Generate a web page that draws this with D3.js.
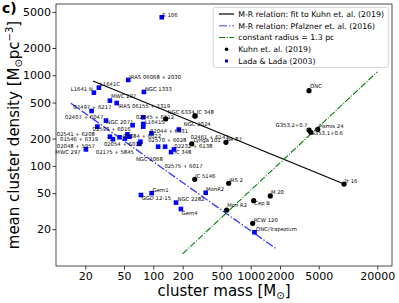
<!DOCTYPE html>
<html>
<head>
<meta charset="utf-8">
<script src="https://cdn.jsdelivr.net/npm/d3@7"></script>
<style>
  body { margin: 0; background: #fff; }
  svg { display: block; font-family: "DejaVu Sans", sans-serif; }
</style>
</head>
<body>
<div id="plot"></div>
<script>
// Kuhn et al. (2019) clusters: mass [Msun], mean density [Msun pc^-3]
const kuhnNames = ["ONC", "G353.2+0.7", "Pismis 24", "G353.1+0.6", "Tr 16", "IRS 2", "M 20", "Cep B",
  "Mon R2", "RCW 120", "IC 5146", "IC 348", "NGC 6334", "NGC 2024", "Lynga 101", "Be 87"];
const kuhnMass = [3975, 3975, 4890, 4140, 9100, 594, 1590, 1074, 566, 1048, 266, 268, 268, 134, 248, 557];
const kuhnDensity = [676, 249, 253, 235, 63, 64.3, 46.6, 41.3, 32.6, 23.2, 71, 356, 356, 330, 175, 182];

// Lada & Lada (2003) embedded clusters
const ladaNames = ["S 106", "IRAS 06068 + 2030", "L1641C", "L1641 N", "NGC 1333", "MWC 297", "IRAS 06155 + 2319",
  "02497 + 6217", "02407 + 6047", "02593 + 6016", "NGC 2071", "02045 + 6112", "L1641S", "02175 + 5845",
  "02461 + 6147", "02541 + 6208", "02054 + 6018", "01546 + 6319", "02384 + 6022", "MWC 297", "",
  "02570 + 6028", "NGC 2068", "02044 + 6031", "", "02575 + 6017", "02232 + 6138", "IC 348", "02048 + 5957",
  "Gem1", "GGD 12-15", "NGC 2282", "Gem4", "MonR2", "ONC/Trapezium"];
const ladaMass = [122, 55.2, 27.6, 24.5, 80, 35.8, 42, 23.2, 32.6, 26.6, 61.2, 78.7, 78.7, 78.7,
  183, 35.8, 38.4, 45.0, 51.1, 54.2, 56.8, 73.7, 71.6, 95.6, 112, 132, 163, 152, 20.3,
  96, 74.6, 171, 192, 345, 1094];
const ladaDensity = [4370, 888, 730, 643, 655, 525, 494, 404, 316, 271, 281, 344, 290, 271,
  252, 210, 197, 207, 200, 223, 210, 185, 175, 229, 163, 163, 152, 142, 152,
  50, 47.7, 39.3, 33.4, 50.5, 18.5];

// relation lines (end points)
const kuhnFitMass = [24, 9100];
const kuhnFitDensity = [865, 63];
const pfalznerMass = [14.2, 1820];
const pfalznerDensity = [491, 12.2];
const constRadiusMass = [200, 20000];
const constRadiusDensity = [10.7, 1090];

const massTicks = [20, 50, 100, 200, 500, 1000, 2000, 5000, 20000];
const densityTicks = [20, 50, 100, 200, 500, 1000, 2000, 5000];

// label nudges in px: [dx, dy, anchor]
const kuhnLabelPos = [[1, -2.2], [-1.3, -3, "end"], [0.6, -1.8], [0, 2.7], [0.3, -1.5], [0.6, -1.3],
  [0.7, -1.5], [0.6, 4.3], [0.6, -2.5], [1, -1.3], [0.3, -1.3], [1.7, -1.7], [-0.5, -2, "end"],
  [18, 7], [1.6, -1.5], [0.5, -1.5]];
const ladaLabelPos = [[0.6, -0.5], [1, -1], [1, -1.7], [-1, -1.7, "end"], [1, -1], [1, -2.2], [1.6, 5],
  [0.8, -2, "middle"], [-2.7, -2, "end"], [-4.8, 4.3], [0.8, -0.8, "end"], [-7.3, 1.7], [1.7, 0.5],
  [-9.3, 27.3, "end"], [11.7, 9], [-15, -0.7, "end"], [-9, 6.7], [-21.4, 3.7, "end"], [-2, -0.2],
  [-46.8, 19.7, "end"], [0, 0], [7.8, 0.8], [-3.3, 17], [-1.5, -0.3], [0, 0], [-0.7, 21.3],
  [0.3, -1.3], [3.3, 2], [9, -1.3, "end"], [1, -0.8], [0.7, 5], [1.5, -1.4], [0.7, 5.5],
  [0.3, -1.8], [1.5, -1.2]];

const width = 399, height = 303;
const plot = {left: 56, right: 392, top: 4, bottom: 266};

const svg = d3.select("#plot")
  .append("svg")
  .attr("width", width)
  .attr("height", height);

const x = d3.scaleLog().domain([10, 28300]).range([plot.left, plot.right]);
const y = d3.scaleLog().domain([7.85, 6120]).range([plot.bottom, plot.top]);

const line = d3.line().x(d => x(d[0])).y(d => y(d[1]));

svg.append("defs").append("clipPath").attr("id", "clip")
  .append("rect")
  .attr("x", plot.left).attr("y", plot.top)
  .attr("width", plot.right - plot.left).attr("height", plot.bottom - plot.top);

const g = svg.append("g").attr("clip-path", "url(#clip)");

// relation lines
g.append("path")
  .attr("d", line(d3.zip(kuhnFitMass, kuhnFitDensity)))
  .attr("fill", "none").attr("stroke", "#000").attr("stroke-width", 1.2);
g.append("path")
  .attr("d", line(d3.zip(pfalznerMass, pfalznerDensity)))
  .attr("fill", "none").attr("stroke", "#0000ff").attr("stroke-opacity", 0.8)
  .attr("stroke-width", 1.3).attr("stroke-dasharray", "8,2,1.3,2");
g.append("path")
  .attr("d", line(d3.zip(constRadiusMass, constRadiusDensity)))
  .attr("fill", "none").attr("stroke", "#008000")
  .attr("stroke-width", 1.1).attr("stroke-dasharray", "6.4,1.6,1,1.6");

// Lada & Lada squares
const ladaData = ladaNames.map((n, i) => ({name: n, m: ladaMass[i], d: ladaDensity[i], pos: ladaLabelPos[i]}));
const kuhnData = kuhnNames.map((n, i) => ({name: n, m: kuhnMass[i], d: kuhnDensity[i], pos: kuhnLabelPos[i]}));

const sq = 4.6;
g.selectAll("rect.lada").data(ladaData).join("rect")
  .attr("class", "lada")
  .attr("x", d => x(d.m) - sq / 2).attr("y", d => y(d.d) - sq / 2)
  .attr("width", sq).attr("height", sq)
  .attr("fill", "#0000ff");

g.selectAll("circle.kuhn").data(kuhnData).join("circle")
  .attr("class", "kuhn")
  .attr("cx", d => x(d.m)).attr("cy", d => y(d.d))
  .attr("r", 2.6).attr("fill", "#000");

// point labels
const labels = svg.append("g").attr("font-size", 5.3).attr("fill", "#000");
labels.selectAll("text").data(ladaData.concat(kuhnData).filter(d => d.name)).join("text")
  .attr("x", d => x(d.m) + d.pos[0])
  .attr("y", d => y(d.d) + d.pos[1])
  .attr("text-anchor", d => d.pos[2] || "start")
  .text(d => d.name);

// axes
const xAxis = svg.append("g")
  .attr("transform", `translate(0,${plot.bottom})`)
  .call(d3.axisBottom(x).tickValues(massTicks).tickFormat(d3.format("d")).tickSize(3.5).tickPadding(2.5));
const yAxis = svg.append("g")
  .attr("transform", `translate(${plot.left},0)`)
  .call(d3.axisLeft(y).tickValues(densityTicks).tickFormat(d3.format("d")).tickSize(3.5).tickPadding(1.5));
[xAxis, yAxis].forEach(a => {
  a.select(".domain").remove();
  a.selectAll("text").attr("font-size", 11).attr("font-family", "DejaVu Sans").attr("fill", "#000");
  a.selectAll("line").attr("stroke", "#000").attr("stroke-width", 0.8);
});

// frame
svg.append("rect")
  .attr("x", plot.left).attr("y", plot.top)
  .attr("width", plot.right - plot.left).attr("height", plot.bottom - plot.top)
  .attr("fill", "none").attr("stroke", "#222").attr("stroke-width", 0.8);

// axis titles
const xt = svg.append("text")
  .attr("x", (plot.left + plot.right) / 2).attr("y", 296)
  .attr("text-anchor", "middle").attr("font-size", 15);
xt.append("tspan").text("cluster mass [M");
xt.append("tspan").attr("font-size", 10).attr("dy", 3).text("⊙");
xt.append("tspan").attr("dy", -3).text("]");

const yt = svg.append("text")
  .attr("transform", `translate(19,${(plot.top + plot.bottom) / 2}) rotate(-90)`)
  .attr("text-anchor", "middle").attr("font-size", 15);
yt.append("tspan").text("mean cluster density [M");
yt.append("tspan").attr("font-size", 10).attr("dy", 3).text("⊙");
yt.append("tspan").attr("dy", -3).text("pc");
yt.append("tspan").attr("font-size", 10).attr("dy", -6).text("−3");
yt.append("tspan").attr("dy", 6).text("]");

svg.append("text")
  .attr("x", 2).attr("y", 13)
  .attr("font-size", 14).attr("font-weight", "bold")
  .text("c)");

// legend
const leg = svg.append("g");
leg.append("rect")
  .attr("x", 213.3).attr("y", 7.5).attr("width", 175).attr("height", 60)
  .attr("rx", 2).attr("fill", "#fff").attr("fill-opacity", 0.85)
  .attr("stroke", "#ccc").attr("stroke-width", 0.8);
const legItems = [
  {label: "M-R relation: fit to Kuhn et. al. (2019)", type: "line", color: "#000", dash: null, op: 1},
  {label: "M-R relation: Pfalzner et. al. (2016)", type: "line", color: "#0000ff", dash: "8,2,1.3,2", op: 0.5},
  {label: "constant radius = 1.3 pc", type: "line", color: "#008000", dash: "6.4,1.6,1,1.6", op: 1},
  {label: "Kuhn et. al. (2019)", type: "dot"},
  {label: "Lada & Lada (2003)", type: "square"}
];
legItems.forEach((it, i) => {
  const cy = 14 + i * 11.75;
  if (it.type === "line") {
    leg.append("line")
      .attr("x1", 219).attr("x2", 234).attr("y1", cy).attr("y2", cy)
      .attr("stroke", it.color).attr("stroke-opacity", it.op)
      .attr("stroke-width", it.op < 1 ? 1.6 : 1.2)
      .attr("stroke-dasharray", it.dash);
  } else if (it.type === "dot") {
    leg.append("circle").attr("cx", 226.5).attr("cy", cy).attr("r", 1.8).attr("fill", "#000");
  } else {
    leg.append("rect").attr("x", 225).attr("y", cy - 1.5).attr("width", 3).attr("height", 3).attr("fill", "#0000ff");
  }
  leg.append("text")
    .attr("x", 238.3).attr("y", cy + 2.8)
    .attr("font-size", 7.8)
    .text(it.label);
});
</script>
</body>
</html>
